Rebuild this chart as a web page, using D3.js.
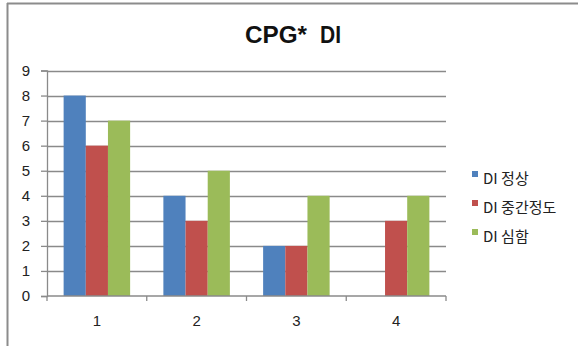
<!DOCTYPE html>
<html>
<head>
<meta charset="utf-8">
<script src="https://cdn.jsdelivr.net/npm/d3@7"></script>
<style>
  html, body { margin: 0; padding: 0; background: #fff; }
  svg { display: block; }
</style>
</head>
<body>
<svg id="chart" width="578" height="346"></svg>
<script>
// Chart data
const categories = ["1", "2", "3", "4"];
const seriesNames = ["DI 정상", "DI 중간정도", "DI 심함"];
const diNormal = [8, 4, 2, 0];
const diModerate = [6, 3, 2, 3];
const diSevere = [7, 5, 4, 4];
const yTicks = [0, 1, 2, 3, 4, 5, 6, 7, 8, 9];
const seriesColors = ["#4F81BD", "#C0504D", "#9BBB59"];

const seriesValues = [diNormal, diModerate, diSevere];

const svg = d3.select("#chart");
const W = 578, H = 346;

// Frame: top and left edges only
svg.append("line")
  .attr("x1", 7).attr("x2", W).attr("y1", 3.5).attr("y2", 3.5)
  .attr("stroke", "#8c8c8c").attr("stroke-width", 2);
svg.append("line")
  .attr("x1", 7.5).attr("x2", 7.5).attr("y1", 3).attr("y2", H)
  .attr("stroke", "#8c8c8c").attr("stroke-width", 2);

const plot = { left: 47, right: 446, top: 70.5, bottom: 296 };

const x = d3.scaleBand()
  .domain(categories)
  .range([plot.left, plot.right])
  .paddingInner(0).paddingOuter(0);

const y = d3.scaleLinear()
  .domain([0, 9])
  .range([plot.bottom, plot.top]);

// Horizontal gridlines
svg.append("g")
  .selectAll("line")
  .data(yTicks.filter(d => d > 0))
  .join("line")
  .attr("x1", plot.left).attr("x2", plot.right)
  .attr("y1", d => Math.round(y(d)) + 0.5)
  .attr("y2", d => Math.round(y(d)) + 0.5)
  .attr("stroke", "#8a8a8a")
  .attr("stroke-width", 1.3);

// Bars: each bar is band/(3 + 1.5) wide (gap width 150%)
const barW = x.bandwidth() / 4.5;
const groupOffset = (x.bandwidth() - barW * 3) / 2;

const groups = svg.append("g");
seriesValues.forEach((vals, si) => {
  groups.append("g")
    .selectAll("rect")
    .data(vals.map((v, i) => ({ cat: categories[i], v })))
    .join("rect")
    .attr("x", d => x(d.cat) + groupOffset + si * barW)
    .attr("y", d => y(d.v))
    .attr("width", barW)
    .attr("height", d => y(0) - y(d.v))
    .attr("fill", seriesColors[si]);
});

// Y axis
const yAxis = d3.axisLeft(y)
  .tickValues(yTicks)
  .tickSize(6)
  .tickPadding(11)
  .tickFormat(d3.format("d"));
const gy = svg.append("g")
  .attr("transform", `translate(${plot.left},0)`)
  .call(yAxis);
gy.select(".domain").attr("stroke", "#8a8a8a").attr("stroke-width", 1.3);
gy.selectAll(".tick line").attr("stroke", "#8a8a8a").attr("stroke-width", 1.3);
gy.selectAll(".tick text")
  .attr("font-family", "Liberation Sans, Arial, sans-serif")
  .attr("font-size", 15)
  .attr("fill", "#222");

// X axis with ticks between categories
const xAxisG = svg.append("g").attr("transform", `translate(0,${plot.bottom})`);
xAxisG.append("line")
  .attr("x1", plot.left).attr("x2", plot.right)
  .attr("y1", 0).attr("y2", 0)
  .attr("stroke", "#8a8a8a").attr("stroke-width", 1.3);
const boundaries = categories.map(c => x(c)).concat([x(categories[categories.length - 1]) + x.bandwidth()]);
xAxisG.selectAll("line.tk")
  .data(boundaries)
  .join("line")
  .attr("class", "tk")
  .attr("x1", d => d).attr("x2", d => d)
  .attr("y1", 0).attr("y2", 5)
  .attr("stroke", "#8a8a8a").attr("stroke-width", 1.3);
xAxisG.selectAll("text")
  .data(categories)
  .join("text")
  .attr("x", d => x(d) + x.bandwidth() / 2)
  .attr("y", 30)
  .attr("text-anchor", "middle")
  .attr("font-family", "Liberation Sans, Arial, sans-serif")
  .attr("font-size", 15)
  .attr("fill", "#222")
  .text(d => d);

// Title
const title = svg.append("g")
  .attr("font-family", "Liberation Sans, Arial, sans-serif")
  .attr("font-weight", "bold")
  .attr("font-size", 23)
  .attr("fill", "#111");
title.append("text")
  .attr("x", 245).attr("y", 43)
  .attr("textLength", 62)
  .attr("lengthAdjust", "spacingAndGlyphs")
  .text("CPG*");
title.append("text")
  .attr("x", 320).attr("y", 43)
  .attr("textLength", 21)
  .attr("lengthAdjust", "spacingAndGlyphs")
  .text("DI");

// Legend
const legend = svg.append("g").attr("transform", "translate(472,171)");
seriesNames.forEach((name, i) => {
  const row = legend.append("g").attr("transform", `translate(0,${i * 29})`);
  row.append("rect")
    .attr("x", 0).attr("y", 0)
    .attr("width", 6).attr("height", 6)
    .attr("fill", seriesColors[i]);
  row.append("text")
    .attr("x", 11).attr("y", 13)
    .attr("font-family", "Noto Sans CJK KR, Liberation Sans, sans-serif")
    .attr("font-size", 15)
    .attr("fill", "#222")
    .text(name);
});
</script>
</body>
</html>
